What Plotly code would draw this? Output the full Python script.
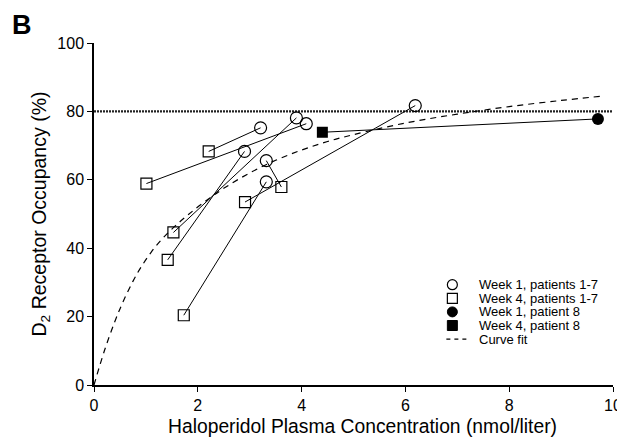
import plotly.graph_objects as go

# Week 1 / Week 4 values, patients 1-7 (paired by index)
week1_conc = [4.09, 3.21, 3.90, 2.90, 3.32, 6.19, 3.32]
week1_occ = [76.4, 75.2, 78.1, 68.3, 59.4, 81.7, 65.6]
week4_conc = [1.01, 2.21, 1.53, 1.42, 1.73, 2.91, 3.61]
week4_occ = [58.9, 68.3, 44.6, 36.6, 20.4, 53.5, 57.9]

# Patient 8
p8_week1_conc = [9.71]
p8_week1_occ = [77.8]
p8_week4_conc = [4.40]
p8_week4_occ = [73.9]

# Curve fit
fit_conc = [0, 0.2, 0.4, 0.55, 0.75, 0.9, 1.1, 1.3, 1.55, 1.8, 2.1, 2.5, 3.0, 3.5,
            4.0, 4.5, 5.0, 6.0, 7.0, 8.0, 9.0, 9.75]
fit_occ = [0, 10, 18.5, 24, 30.3, 34.3, 38.8, 42.5, 46.3, 49.6, 53.2, 57.5, 62, 65.7,
           68.7, 71.2, 73.2, 76.6, 79.2, 81.4, 83.2, 84.4]

threshold = 80
x_ticks = [0, 2, 4, 6, 8, 10]
y_ticks = [0, 20, 40, 60, 80, 100]
legend_labels = ["Week 1, patients 1-7", "Week 4, patients 1-7",
                 "Week 1, patient 8", "Week 4, patient 8", "Curve fit"]

# page has an 8px body margin: lay the figure out so that the screenshot matches
OFF = 8
W, H = 625 - OFF, 437 - OFF
ML, MR, MT, MB = 93.5 - OFF, 12.3, 43.3 - OFF, 51.7
PW, PH = W - ML - MR, H - MT - MB


def px(xp):
    return (xp - OFF - ML) / PW


def py(yp):
    return (H - MB - (yp - OFF)) / PH


fig = go.Figure()

# threshold dotted line
fig.add_trace(go.Scatter(x=[0, 10], y=[threshold, threshold], mode="lines",
                         line=dict(color="#222", width=2.2, dash="2px,1px"),
                         showlegend=False, hoverinfo="skip"))

# connecting lines per patient
for a, b, c, d in zip(week1_conc, week1_occ, week4_conc, week4_occ):
    fig.add_trace(go.Scatter(x=[c, a], y=[d, b], mode="lines",
                             line=dict(color="black", width=1),
                             showlegend=False, hoverinfo="skip"))
fig.add_trace(go.Scatter(x=[p8_week4_conc[0], p8_week1_conc[0]],
                         y=[p8_week4_occ[0], p8_week1_occ[0]], mode="lines",
                         line=dict(color="black", width=1),
                         showlegend=False, hoverinfo="skip"))

fig.add_trace(go.Scatter(x=fit_conc, y=fit_occ, mode="lines", name=legend_labels[4],
                         line=dict(color="black", width=1.2, dash="6px,5px",
                                   shape="spline"), showlegend=False))
fig.add_trace(go.Scatter(x=week1_conc, y=week1_occ, mode="markers",
                         name=legend_labels[0], showlegend=False,
                         marker=dict(symbol="circle-open", size=12, color="black",
                                     line=dict(width=1.2, color="black"))))
fig.add_trace(go.Scatter(x=week4_conc, y=week4_occ, mode="markers",
                         name=legend_labels[1], showlegend=False,
                         marker=dict(symbol="square-open", size=11, color="black",
                                     line=dict(width=1.2, color="black"))))
fig.add_trace(go.Scatter(x=p8_week1_conc, y=p8_week1_occ, mode="markers",
                         name=legend_labels[2], showlegend=False,
                         marker=dict(symbol="circle", size=12, color="black")))
fig.add_trace(go.Scatter(x=p8_week4_conc, y=p8_week4_occ, mode="markers",
                         name=legend_labels[3], showlegend=False,
                         marker=dict(symbol="square", size=11, color="black")))

font_family = "Liberation Sans, Arial, sans-serif"

# custom legend (compact rows like the reference)
row_y = [285, 298.6, 312.2, 325.8, 339.4]
sym_x = 452
text_x = 477
r = 5
shapes = []
shapes.append(dict(type="circle", xref="paper", yref="paper",
                   x0=px(sym_x - r), x1=px(sym_x + r), y0=py(row_y[0] + r), y1=py(row_y[0] - r),
                   line=dict(color="black", width=1.2)))
shapes.append(dict(type="rect", xref="paper", yref="paper",
                   x0=px(sym_x - r), x1=px(sym_x + r), y0=py(row_y[1] + r), y1=py(row_y[1] - r),
                   line=dict(color="black", width=1.2)))
shapes.append(dict(type="circle", xref="paper", yref="paper",
                   x0=px(sym_x - r), x1=px(sym_x + r), y0=py(row_y[2] + r), y1=py(row_y[2] - r),
                   line=dict(color="black", width=1), fillcolor="black"))
shapes.append(dict(type="rect", xref="paper", yref="paper",
                   x0=px(sym_x - r), x1=px(sym_x + r), y0=py(row_y[3] + r), y1=py(row_y[3] - r),
                   line=dict(color="black", width=1), fillcolor="black"))
shapes.append(dict(type="line", xref="paper", yref="paper",
                   x0=px(446), x1=px(468), y0=py(row_y[4]), y1=py(row_y[4]),
                   line=dict(color="black", width=1.2, dash="4px,4px")))

annotations = [dict(text=lab, x=px(text_x), y=py(yy), xref="paper", yref="paper",
                    showarrow=False, xanchor="left", yanchor="middle",
                    font=dict(size=13, family=font_family, color="black"))
               for lab, yy in zip(legend_labels, row_y)]
annotations.append(dict(text="<b>B</b>", x=px(9), y=py(8), xref="paper", yref="paper",
                        showarrow=False, xanchor="left", yanchor="top",
                        font=dict(size=27, family=font_family, color="black")))
annotations.append(dict(text="Haloperidol Plasma Concentration (nmol/liter)",
                        x=px(362), y=py(427), xref="paper", yref="paper",
                        showarrow=False, xanchor="center", yanchor="middle",
                        font=dict(size=19.3, family=font_family, color="black")))

fig.update_layout(
    width=W, height=H,
    margin=dict(l=ML, r=MR, t=MT, b=MB),
    paper_bgcolor="white", plot_bgcolor="white",
    font=dict(family=font_family, size=16, color="black"),
    showlegend=False,
    shapes=shapes,
    annotations=annotations,
    xaxis=dict(range=[0, 10], tickvals=x_ticks, showline=True, linecolor="black",
               linewidth=1.5, ticks="outside", ticklen=5, tickcolor="black",
               showgrid=False, zeroline=False, automargin=False,
               tickfont=dict(size=16)),
    yaxis=dict(range=[0, 100], tickvals=y_ticks, showline=True, linecolor="black",
               linewidth=1.5, ticks="outside", ticklen=5, tickcolor="black",
               showgrid=False, zeroline=False, automargin=False,
               tickfont=dict(size=16),
               title=dict(text="D<sub>2</sub> Receptor Occupancy (%)",
                          font=dict(size=19.5), standoff=6)),
)

fig.write_html("out.html")
